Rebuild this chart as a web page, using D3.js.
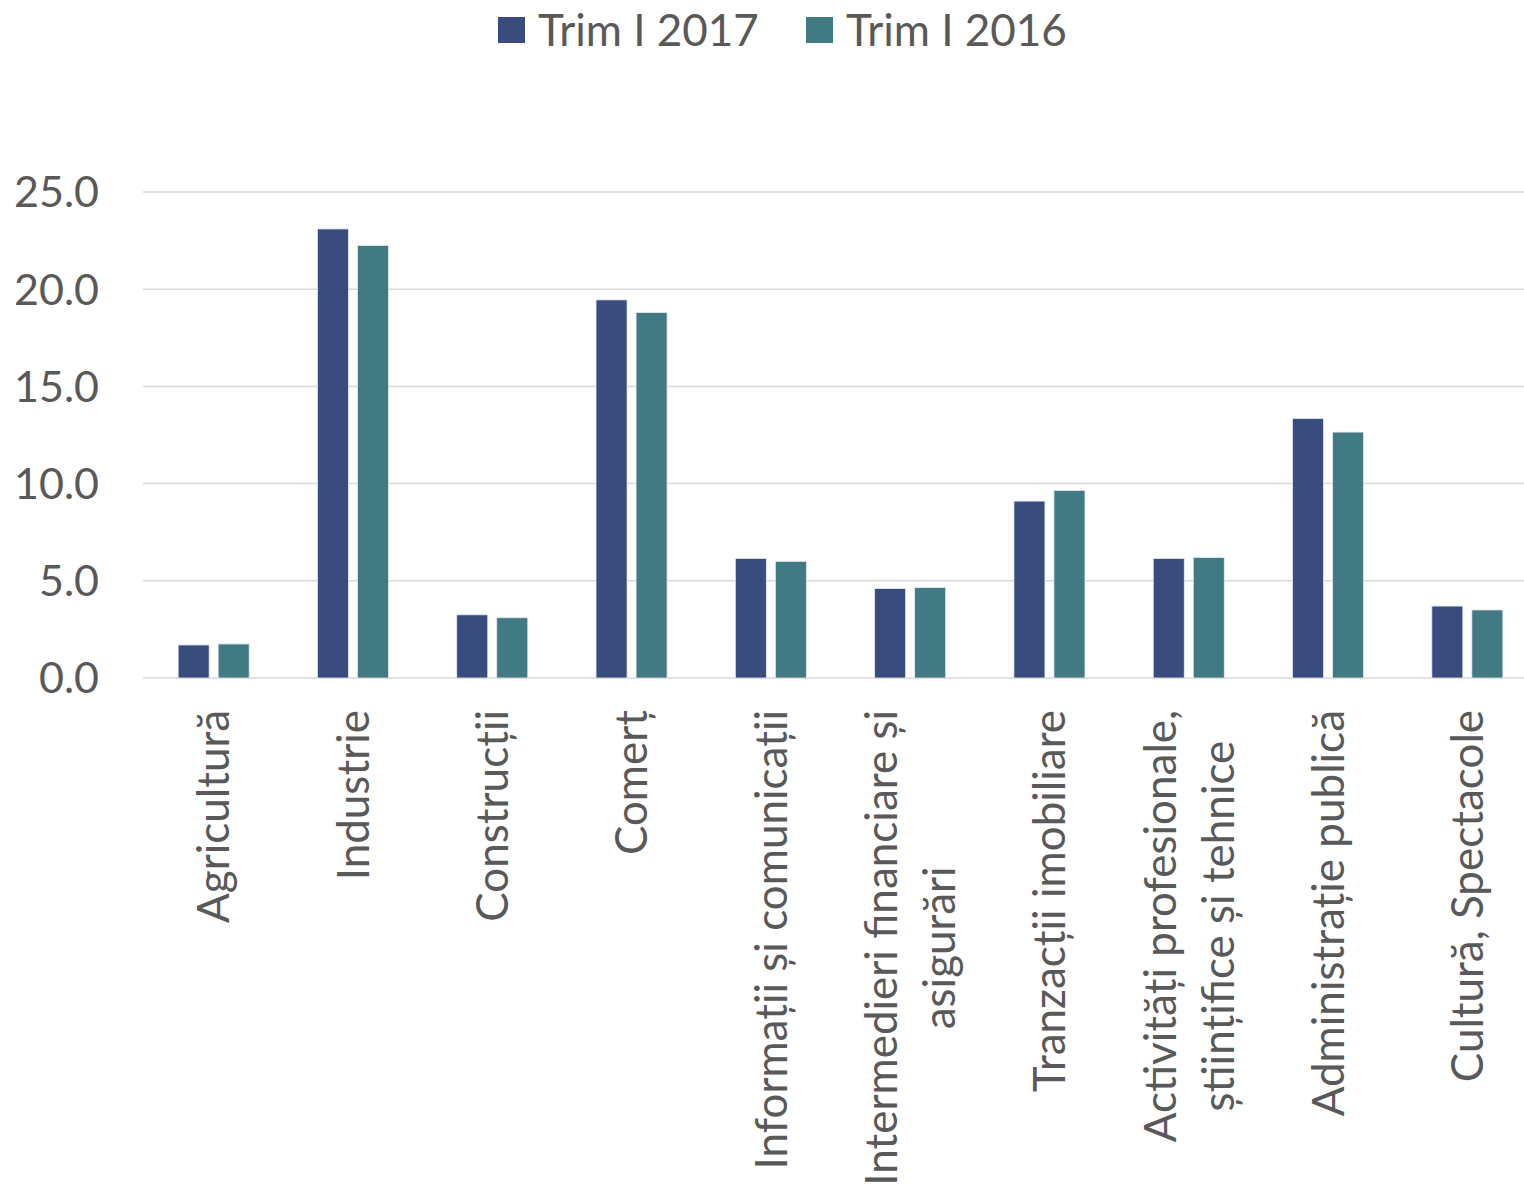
<!DOCTYPE html>
<html>
<head>
<meta charset="utf-8">
<script src="https://cdn.jsdelivr.net/npm/d3@7"></script>
<style>
  body { margin: 0; background: #fff; }
  text { font-family: Lato, "Open Sans", sans-serif; fill: #595959; }
</style>
</head>
<body>
<script>
var categories = [
  ["Agricultură"],
  ["Industrie"],
  ["Construcții"],
  ["Comerț"],
  ["Informații și comunicații"],
  ["Intermedieri financiare și", "asigurări"],
  ["Tranzacții imobiliare"],
  ["Activități profesionale,", "științifice și tehnice"],
  ["Administrație publică"],
  ["Cultură, Spectacole"]
];
var seriesNames = ["Trim I 2017", "Trim I 2016"];
var trim2017 = [1.7, 23.1, 3.25, 19.45, 6.15, 4.6, 9.1, 6.15, 13.35, 3.7];
var trim2016 = [1.75, 22.25, 3.1, 18.8, 6.0, 4.65, 9.65, 6.2, 12.65, 3.5];
var yTicks = [0, 5, 10, 15, 20, 25];
var colors = ["#384d7e", "#427a83"];

var width = 1524, height = 1193,
    margin = {top: 192, right: 0, bottom: 515, left: 143};

var svg = d3.select("body").append("svg")
  .attr("width", width)
  .attr("height", height);

// the category axis runs a little past the right edge of the picture
var x = d3.scaleBand()
  .domain(d3.range(categories.length))
  .range([144, 1537])
  .paddingInner(0.49)
  .paddingOuter(0.245);

var x1 = d3.scaleBand()
  .domain([0, 1])
  .range([0, x.bandwidth()])
  .paddingInner(0.225);

var y = d3.scaleLinear()
  .domain([0, 25])
  .range([height - margin.bottom, margin.top]);

// gridlines
svg.append("g")
  .selectAll("line")
  .data(yTicks)
  .enter().append("line")
    .attr("x1", margin.left)
    .attr("x2", width - margin.right)
    .attr("y1", function(d) { return y(d); })
    .attr("y2", function(d) { return y(d); })
    .attr("stroke", "#d9d9d9")
    .attr("stroke-width", 1.5);

// y labels
svg.append("g")
  .selectAll("text")
  .data(yTicks)
  .enter().append("text")
    .attr("x", 99)
    .attr("y", function(d) { return y(d); })
    .attr("dy", "0.36em")
    .style("text-anchor", "end")
    .style("font-size", "43px")
    .text(function(d) { return d3.format(".1f")(d); });

// bars
var series = [trim2017, trim2016];
series.forEach(function(vals, s) {
  svg.append("g")
    .selectAll("rect")
    .data(vals)
    .enter().append("rect")
      .attr("x", function(d, i) { return x(i) + x1(s); })
      .attr("width", x1.bandwidth())
      .attr("y", function(d) { return y(d); })
      .attr("height", function(d) { return y(0) - y(d); })
      .attr("fill", colors[s])
      .attr("stroke", "#e6e9f0")
      .attr("stroke-width", 0.8);
});

// category labels, rotated
var labelTop = 710, lineH = 58;
var lab = svg.append("g")
  .selectAll("g")
  .data(categories)
  .enter().append("g")
    .style("font-size", "44px");

lab.each(function(lines, i) {
  var g = d3.select(this);
  var cx = x(i) + x.bandwidth() / 2;
  var texts = g.selectAll("text")
    .data(lines)
    .enter().append("text")
      .text(function(d) { return d; });
  var maxW = d3.max(texts.nodes(), function(n) { return n.getComputedTextLength(); });
  var n = lines.length;
  texts
    .attr("transform", function(d, k) {
      var off = (k - (n - 1) / 2) * lineH;
      return "translate(" + (cx + off) + "," + (labelTop + maxW / 2) + ") rotate(-90)";
    })
    .attr("dy", "0.36em")
    .style("text-anchor", "middle");
});

// legend
var legend = svg.append("g");
var legX = [498, 806];
seriesNames.forEach(function(name, s) {
  legend.append("rect")
    .attr("x", legX[s])
    .attr("y", 17)
    .attr("width", 27)
    .attr("height", 26)
    .attr("fill", colors[s]);
  legend.append("text")
    .attr("x", legX[s] + 40)
    .attr("y", 30)
    .attr("dy", "0.36em")
    .style("font-size", "44px")
    .text(name);
});
</script>
</body>
</html>
